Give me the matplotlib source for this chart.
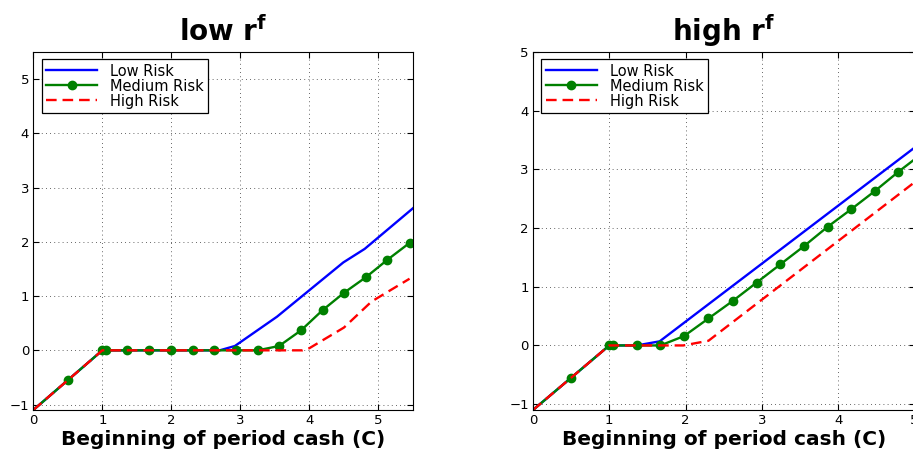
import numpy as np
import matplotlib
matplotlib.use('Agg')
import matplotlib.pyplot as plt

plt.rcParams['font.family'] = ['DejaVu Sans']
plt.rcParams['mathtext.fontset'] = 'dejavusans'

# left panel: low r^f
low_x_low = [0, 1.0, 2.7, 2.92, 3.53, 4.49, 4.8, 5.5]
low_y_low = [-1.1, 0, 0, 0.08, 0.62, 1.62, 1.87, 2.62]
low_x_med = [0, 0.5, 1.0, 1.05, 1.36, 1.68, 1.99, 2.31, 2.62, 2.93, 3.25, 3.56, 3.88, 4.19, 4.5, 4.82, 5.13, 5.45]
low_y_med = [-1.1, -0.55, 0, 0, 0, 0, 0, 0, 0, 0, 0, 0.08, 0.37, 0.74, 1.06, 1.35, 1.67, 1.98]
low_x_high = [0, 1.0, 3.9, 4.0, 4.5, 4.9, 5.45]
low_y_high = [-1.1, 0, 0, 0.04, 0.42, 0.9, 1.32]

# right panel: high r^f
high_x_low = [0, 1.0, 1.36, 1.66, 5.0]
high_y_low = [-1.1, 0, 0, 0.07, 3.37]
high_x_med = [0, 0.5, 1.0, 1.05, 1.36, 1.67, 1.98, 2.30, 2.62, 2.93, 3.24, 3.55, 3.86, 4.17, 4.48, 4.79, 5.1]
high_y_med = [-1.1, -0.55, 0, 0, 0, 0, 0.16, 0.46, 0.76, 1.07, 1.38, 1.69, 2.02, 2.32, 2.63, 2.96, 3.27]
high_x_high = [0, 1.0, 1.97, 2.30, 5.0]
high_y_high = [-1.1, 0, 0, 0.08, 2.78]

labels = ['Low Risk', 'Medium Risk', 'High Risk']

fig = plt.figure(figsize=(9.13, 4.5), dpi=100)
W, H = 913.0, 450.0
ax1 = fig.add_axes([33.3 / W, 40 / H, 379.7 / W, 358 / H])
ax2 = fig.add_axes([533 / W, 40 / H, 381.5 / W, 358 / H])


def draw(ax, xl, yl, xm, ym, xh, yh, title, xmax, ymax):
    ax.plot(xl, yl, color='#0000ff', lw=1.7, label=labels[0])
    ax.plot(xm, ym, color='#008000', lw=1.7, marker='o', ms=6, markevery=slice(1, None),
            label=labels[1])
    ax.plot(xh, yh, color='#ff0000', lw=1.7, ls=(0, (4.5, 2.5)), label=labels[2])
    ax.set_xlim(0, xmax)
    ax.set_ylim(-1.1, ymax)
    ax.set_xticks(range(0, 6))
    ax.set_yticks(range(-1, 6))
    ax.set_yticklabels(['\u22121', '0', '1', '2', '3', '4', '5'])
    ax.grid(True, color='0.2', ls=(0, (1, 4)), lw=0.6)
    ax.tick_params(direction='in', top=True, right=True, labelsize=9.5, length=4, pad=3)
    for s in ax.spines.values():
        s.set_linewidth(0.8)
    ax.set_title(title, fontsize=20, fontweight='bold', pad=8)
    ax.set_xlabel('Beginning of period cash (C)', fontsize=14.5, fontweight='bold', labelpad=2)
    leg = ax.legend(loc='upper left', bbox_to_anchor=(0.022, 0.98), borderaxespad=0,
                    fontsize=10.5, numpoints=1, handlelength=3.5, handletextpad=0.9,
                    labelspacing=0.0, borderpad=0.3, fancybox=False, framealpha=1)
    leg.get_frame().set_edgecolor('black')
    leg.get_frame().set_linewidth(0.9)


draw(ax1, low_x_low, low_y_low, low_x_med, low_y_med, low_x_high, low_y_high,
     r'low $\mathbf{r^f}$', 5.5, 5.5)
draw(ax2, high_x_low, high_y_low, high_x_med, high_y_med, high_x_high, high_y_high,
     r'high $\mathbf{r^f}$', 5.0, 5.0)

fig.savefig('out.png', dpi=100)
